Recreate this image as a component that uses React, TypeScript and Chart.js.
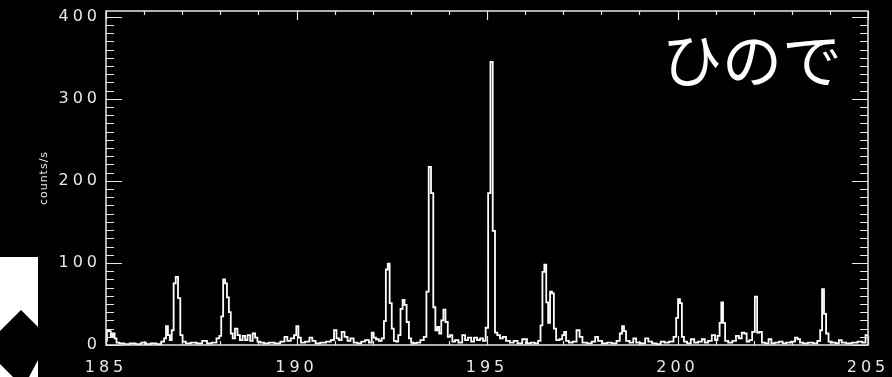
import React, { useEffect, useRef } from "react";
import { Chart, registerables } from "chart.js";

Chart.register(...registerables);

// Wavelength (Å) and count rate (counts/s)
const wavelengths: number[] = [
  185.0, 185.05, 185.1, 185.15, 185.2, 185.25, 185.3, 185.4, 185.55, 185.7, 185.85, 186.0, 186.1, 186.25, 186.4, 186.5,
  186.55, 186.6, 186.65, 186.7, 186.75, 186.8, 186.86, 186.92, 186.98, 187.04, 187.15, 187.3, 187.45, 187.6, 187.7, 187.85, 187.95,
  188.0, 188.05, 188.1, 188.15, 188.2, 188.25, 188.3, 188.35, 188.42, 188.48, 188.55, 188.62, 188.68, 188.75, 188.82, 188.88, 188.95,
  189.0, 189.1, 189.2, 189.35, 189.5, 189.65, 189.72, 189.8, 189.9, 189.97, 190.02, 190.08, 190.15, 190.3, 190.38, 190.45, 190.55,
  190.7, 190.85, 190.95, 191.02, 191.08, 191.15, 191.22, 191.3, 191.38, 191.45, 191.55, 191.65, 191.75, 191.85, 191.95, 192.0,
  192.05, 192.12, 192.2, 192.27, 192.32, 192.37, 192.42, 192.47, 192.53, 192.58, 192.64, 192.7, 192.76, 192.81, 192.86, 192.92,
  192.98, 193.04, 193.1, 193.2, 193.3, 193.38, 193.44, 193.5, 193.56, 193.62, 193.67, 193.72, 193.77, 193.83, 193.88, 193.94,
  194.0, 194.06, 194.12, 194.2, 194.3, 194.4, 194.45, 194.55, 194.62, 194.7, 194.78, 194.86, 194.93, 195.0, 195.06, 195.12,
  195.18, 195.24, 195.3, 195.38, 195.45, 195.55, 195.65, 195.75, 195.85, 196.0, 196.1, 196.2, 196.3, 196.38, 196.43, 196.48,
  196.53, 196.58, 196.63, 196.68, 196.73, 196.78, 196.85, 196.95, 197.0, 197.05, 197.1, 197.2, 197.3, 197.4, 197.46, 197.55,
  197.7, 197.8, 197.88, 197.95, 198.1, 198.2, 198.35, 198.45, 198.52, 198.57, 198.62, 198.68, 198.8, 198.88, 198.95, 199.1,
  199.2, 199.27, 199.4, 199.5, 199.62, 199.7, 199.85, 199.94, 199.99, 200.04, 200.09, 200.14, 200.2, 200.3, 200.4, 200.48,
  200.6, 200.68, 200.75, 200.85, 200.95, 201.02, 201.08, 201.13, 201.17, 201.22, 201.28, 201.38, 201.5, 201.57, 201.65, 201.72,
  201.78, 201.85, 201.92, 202.0, 202.06, 202.12, 202.18, 202.25, 202.35, 202.43, 202.5, 202.6, 202.72, 202.8, 202.9, 203.05,
  203.12, 203.18, 203.25, 203.35, 203.5, 203.62, 203.72, 203.77, 203.82, 203.87, 203.93, 204.0, 204.1, 204.2, 204.27, 204.35,
  204.5, 204.65, 204.8, 204.9, 204.97, 205.0,
];

const counts: number[] = [
  5, 18, 17, 10, 14, 8, 3, 2, 1, 2, 1, 3, 1, 2, 1, 4,
  8, 23, 12, 6, 18, 75, 83, 57, 12, 4, 2, 3, 2, 5, 2, 3, 8,
  11, 35, 80, 75, 58, 40, 14, 8, 20, 12, 6, 11, 6, 12, 5, 14, 9,
  4, 3, 2, 3, 2, 4, 10, 5, 8, 12, 23, 9, 3, 4, 9, 5, 2,
  3, 4, 6, 18, 8, 6, 16, 10, 5, 8, 3, 2, 4, 6, 3, 15,
  9, 7, 5, 8, 29, 92, 99, 51, 20, 5, 4, 12, 44, 55, 49, 28,
  8, 3, 2, 3, 6, 10, 65, 217, 185, 46, 18, 22, 14, 30, 43, 28,
  10, 12, 4, 6, 3, 12, 6, 9, 4, 9, 6, 8, 5, 21, 185, 345,
  139, 15, 12, 8, 10, 5, 3, 5, 2, 7, 2, 3, 2, 5, 24, 89,
  98, 52, 27, 65, 63, 20, 6, 7, 12, 16, 5, 3, 4, 18, 10, 3,
  2, 4, 10, 5, 2, 3, 2, 5, 14, 23, 17, 5, 3, 8, 3, 2,
  8, 4, 2, 1, 4, 3, 4, 10, 33, 56, 51, 10, 4, 2, 7, 3,
  4, 7, 3, 5, 12, 6, 11, 27, 52, 27, 5, 3, 5, 11, 8, 15,
  14, 4, 6, 16, 59, 15, 16, 3, 2, 7, 2, 3, 4, 2, 3, 4,
  9, 7, 3, 2, 3, 2, 5, 18, 68, 38, 14, 4, 3, 2, 6, 3,
  2, 3, 4, 3, 12, 12,
];

const xTickValues: number[] = [185, 190, 195, 200, 205];
const yTickValues: number[] = [0, 100, 200, 300, 400];
const xMin = 185;
const xMax = 205;
const xMajorStep = 5;
const xMinorStep = 1;
const yMin = 0;
const yMax = 407;
const yMajorStep = 100;
const yMinorStep = 10;
const yAxisTitle = "counts/s";
const overlayText = "ひので";

const framePlugin = {
  id: "idlFrame",
  beforeDraw(chart: any) {
    const ctx = chart.ctx;
    ctx.save();
    ctx.fillStyle = "#000";
    ctx.fillRect(0, 0, chart.width, chart.height);
    ctx.restore();
    ctx.letterSpacing = "4px";
  },
  beforeDatasetsDraw(chart: any) {
    chart.ctx.letterSpacing = "0px";
  },
  afterDraw(chart: any) {
    const ctx = chart.ctx;
    const { left, right, top, bottom } = chart.chartArea;
    const xs = chart.scales.x;
    const ys = chart.scales.y;
    ctx.save();
    ctx.letterSpacing = "0px";
    ctx.strokeStyle = "#e8e8e8";
    ctx.lineWidth = 1.5;
    ctx.strokeRect(left, top, right - left, bottom - top);
    ctx.lineWidth = 1.2;
    ctx.beginPath();
    for (let v = xMin; v <= xMax + 1e-9; v += xMinorStep) {
      const px = Math.round(xs.getPixelForValue(v)) + 0.5;
      const len = Math.abs(v % xMajorStep) < 1e-6 ? 9 : 4;
      ctx.moveTo(px, bottom);
      ctx.lineTo(px, bottom - len);
      ctx.moveTo(px, top);
      ctx.lineTo(px, top + len);
    }
    for (let v = yMin; v <= yMax + 1e-9; v += yMinorStep) {
      const py = Math.round(ys.getPixelForValue(v)) + 0.5;
      const len = Math.abs(v % yMajorStep) < 1e-6 ? 16 : 8;
      ctx.moveTo(left, py);
      ctx.lineTo(left + len, py);
      ctx.moveTo(right, py);
      ctx.lineTo(right - len, py);
    }
    ctx.stroke();

    // y axis title
    ctx.save();
    ctx.translate(44, (top + bottom) / 2);
    ctx.rotate(-Math.PI / 2);
    ctx.fillStyle = "#e8e8e8";
    ctx.font = "11px 'DejaVu Sans'";
    ctx.letterSpacing = "1px";
    ctx.textAlign = "center";
    ctx.textBaseline = "middle";
    ctx.fillText(yAxisTitle, 0, 0);
    ctx.restore();

    // overlay text
    ctx.fillStyle = "#ffffff";
    ctx.font = "60px 'Noto Sans CJK JP'";
    ctx.textAlign = "right";
    ctx.textBaseline = "middle";
    ctx.fillText(overlayText, 842, 60);

    // partial logo at lower-left
    ctx.fillStyle = "#ffffff";
    ctx.fillRect(0, 257, 38, 120);
    ctx.fillStyle = "#000000";
    ctx.beginPath();
    ctx.moveTo(21, 310);
    ctx.lineTo(38, 327);
    ctx.lineTo(38, 360);
    ctx.lineTo(29, 377);
    ctx.lineTo(13, 377);
    ctx.lineTo(0, 364);
    ctx.lineTo(0, 331);
    ctx.closePath();
    ctx.fill();
    ctx.restore();
  },
};

export default function App() {
  const canvasRef = useRef<HTMLCanvasElement | null>(null);

  useEffect(() => {
    document.body.style.margin = "0";
    document.body.style.background = "#000";
    const canvas = canvasRef.current;
    if (!canvas) return;
    const points = wavelengths.map((w, i) => ({ x: w, y: counts[i] }));
    const tickFont = { family: "'DejaVu Sans'", size: 16 };
    const chart = new Chart(canvas, {
      type: "line",
      data: {
        datasets: [
          {
            data: points,
            borderColor: "#ffffff",
            borderWidth: 1.8,
            pointRadius: 0,
            stepped: "middle",
            fill: false,
          },
        ],
      },
      options: {
        animation: false,
        responsive: false,
        devicePixelRatio: 1,
        layout: { padding: { left: 46, right: 24, top: 11, bottom: 0 } },
        plugins: { legend: { display: false }, tooltip: { enabled: false } },
        scales: {
          x: {
            type: "linear",
            min: xMin,
            max: xMax,
            grid: { display: false, drawTicks: false },
            border: { display: false },
            ticks: {
              color: "#e8e8e8",
              font: tickFont,
              padding: 13,
              maxRotation: 0,
            },
            afterBuildTicks(scale: any) {
              scale.ticks = xTickValues.map((v) => ({ value: v }));
            },
            afterFit(scale: any) {
              scale.height = 32;
              scale.paddingLeft = 0;
              scale.paddingRight = 0;
            },
          },
          y: {
            type: "linear",
            min: yMin,
            max: yMax,
            grid: { display: false, drawTicks: false },
            border: { display: false },
            ticks: {
              color: "#e8e8e8",
              font: tickFont,
              padding: 5,
            },
            afterBuildTicks(scale: any) {
              scale.ticks = yTickValues.map((v) => ({ value: v }));
            },
            afterFit(scale: any) {
              scale.width = 60;
              scale.paddingTop = 0;
              scale.paddingBottom = 0;
            },
          },
        },
      },
      plugins: [framePlugin],
    } as any);
    return () => chart.destroy();
  }, []);

  return (
    <div style={{ position: "absolute", left: 0, top: 0, width: 892, height: 377, background: "#000" }}>
      <canvas ref={canvasRef} width={892} height={377} style={{ display: "block" }} />
    </div>
  );
}
